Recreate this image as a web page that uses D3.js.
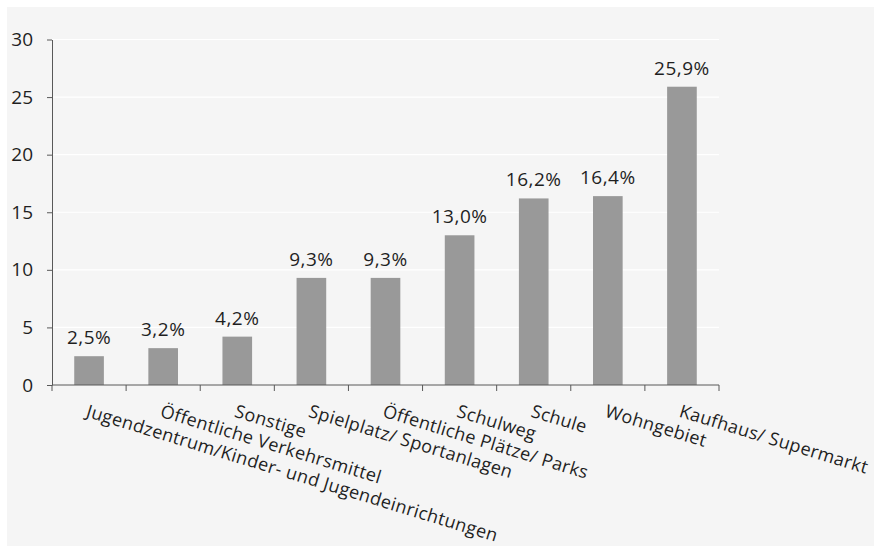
<!DOCTYPE html>
<html>
<head>
<meta charset="utf-8">
<script src="https://cdn.jsdelivr.net/npm/d3@7"></script>
<style>
  html, body { margin: 0; padding: 0; background: #ffffff; }
  svg { display: block; }
  text { font-family: "Open Sans", "Noto Sans", sans-serif; fill: #1f1f1f; }
</style>
</head>
<body>
<script>
// Orte, an denen Vorfälle berichtet wurden (Anteile in %)
const categories = [
  "Jugendzentrum/Kinder- und Jugendeinrichtungen",
  "Öffentliche Verkehrsmittel",
  "Sonstige",
  "Spielplatz/ Sportanlagen",
  "Öffentliche Plätze/ Parks",
  "Schulweg",
  "Schule",
  "Wohngebiet",
  "Kaufhaus/ Supermarkt"
];
const values = [2.5, 3.2, 4.2, 9.3, 9.3, 13.0, 16.2, 16.4, 25.9];
const yTicks = [0, 5, 10, 15, 20, 25, 30];

const W = 874, H = 547;
const plot = { left: 52, right: 719, top: 39.5, bottom: 385 };
const FONT = "'Open Sans', 'Noto Sans', sans-serif";

const svg = d3.select("body").append("svg")
  .attr("width", W).attr("height", H);

// chart panel
svg.append("rect")
  .attr("x", 7).attr("y", 7)
  .attr("width", W - 7).attr("height", 539)
  .attr("fill", "#f5f5f5");

const x = d3.scaleBand()
  .domain(categories)
  .range([plot.left, plot.right])
  .paddingInner(0).paddingOuter(0);

const y = d3.scaleLinear()
  .domain([0, 30])
  .range([plot.bottom, plot.top]);

// horizontal grid lines
svg.append("g")
  .selectAll("line")
  .data(yTicks.filter(t => t > 0))
  .join("line")
  .attr("x1", plot.left).attr("x2", plot.right)
  .attr("y1", d => y(d)).attr("y2", d => y(d))
  .attr("stroke", "#ffffff").attr("stroke-width", 1.2);

// bars
const barW = x.bandwidth() * 0.4;
svg.append("g")
  .selectAll("rect")
  .data(values)
  .join("rect")
  .attr("x", (d, i) => x(categories[i]) + (x.bandwidth() - barW) / 2)
  .attr("y", d => y(d))
  .attr("width", barW)
  .attr("height", d => y(0) - y(d))
  .attr("fill", "#999999");

// value labels
svg.append("g")
  .selectAll("text")
  .data(values)
  .join("text")
  .attr("x", (d, i) => x(categories[i]) + x.bandwidth() / 2)
  .attr("y", d => y(d) - 12)
  .attr("text-anchor", "middle")
  .attr("font-size", 19)
  .attr("letter-spacing", "0.5px")
  .text(d => d3.format(".1f")(d).replace(".", ",") + "%");

// y axis
const yAxis = svg.append("g")
  .attr("transform", `translate(${plot.left},0)`)
  .call(d3.axisLeft(y).tickValues(yTicks).tickSize(5).tickPadding(14).tickSizeOuter(0));
yAxis.select(".domain").attr("stroke", "#595959");
yAxis.selectAll(".tick line").attr("stroke", "#595959");
yAxis.selectAll(".tick text")
  .attr("font-size", 19)
  .attr("font-family", FONT)
  .attr("fill", "#1f1f1f");

// x axis: ticks at category boundaries
const xAxisG = svg.append("g").attr("transform", `translate(0,${plot.bottom})`);
xAxisG.append("line")
  .attr("x1", plot.left).attr("x2", plot.right)
  .attr("stroke", "#595959");
const boundaries = categories.map(c => x(c)).concat([plot.right]);
xAxisG.selectAll("line.tk")
  .data(boundaries)
  .join("line")
  .attr("class", "tk")
  .attr("x1", d => d).attr("x2", d => d)
  .attr("y1", 0).attr("y2", 6)
  .attr("stroke", "#595959");

// rotated category labels
svg.append("g")
  .selectAll("text")
  .data(categories)
  .join("text")
  .attr("transform", d => `translate(${x(d) + x.bandwidth() / 2},${plot.bottom + 19}) rotate(17)`)
  .attr("dy", "0.72em")
  .attr("text-anchor", "start")
  .attr("font-size", 18)
  .attr("letter-spacing", "0.35px")
  .text(d => d);
</script>
</body>
</html>
